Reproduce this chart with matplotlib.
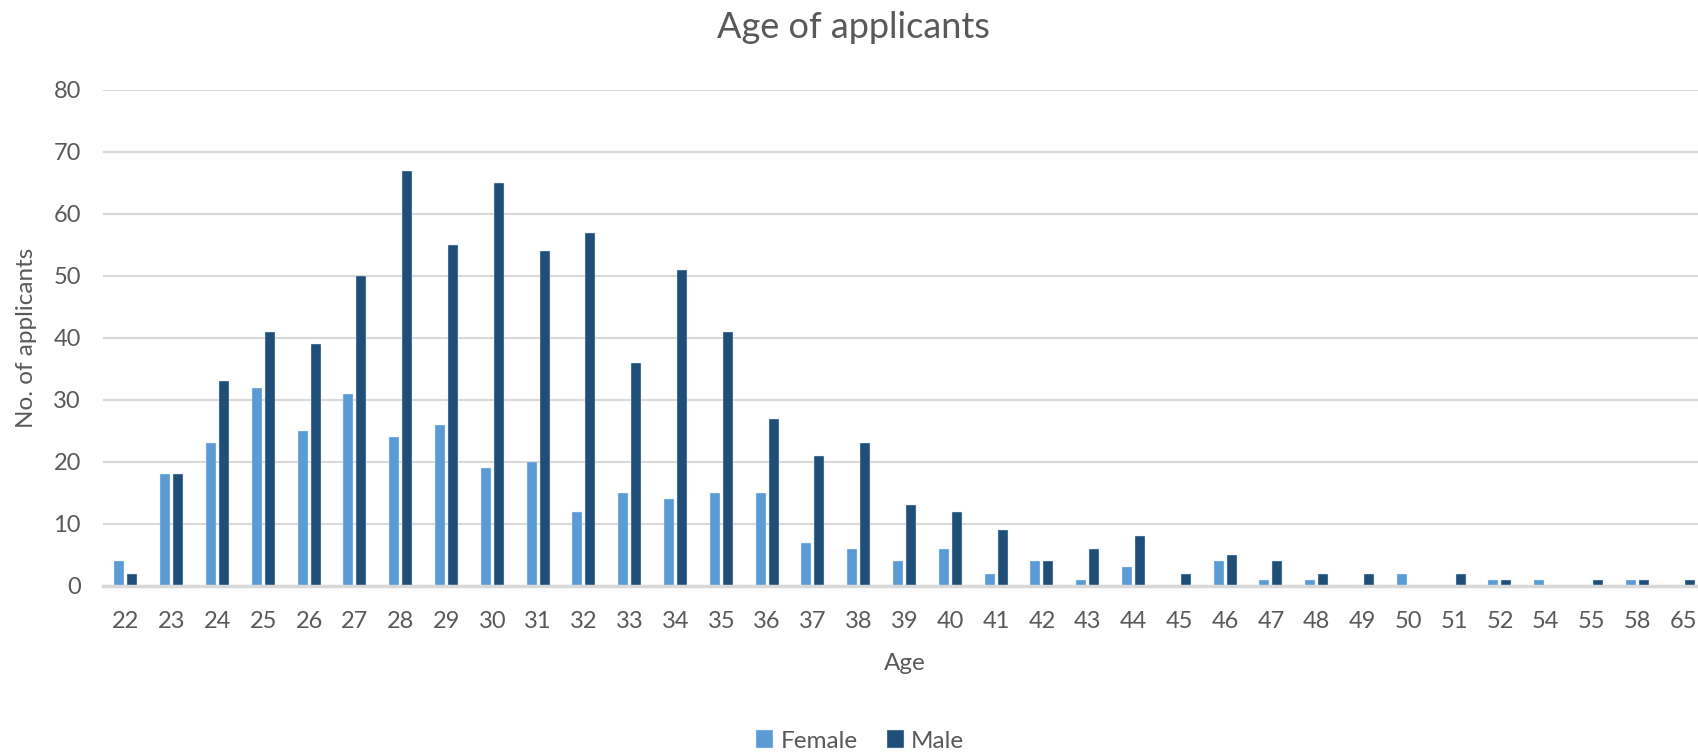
import matplotlib.pyplot as plt
import numpy as np

ages = ['22', '23', '24', '25', '26', '27', '28', '29', '30', '31', '32', '33',
        '34', '35', '36', '37', '38', '39', '40', '41', '42', '43', '44', '45',
        '46', '47', '48', '49', '50', '51', '52', '54', '55', '58', '65']
female = [4, 18, 23, 32, 25, 31, 24, 26, 19, 20, 12, 15, 14, 15, 15, 7, 6, 4, 6,
          2, 4, 1, 3, 0, 4, 1, 1, 0, 2, 0, 1, 1, 0, 1, 0]
male = [2, 18, 33, 41, 39, 50, 67, 55, 65, 54, 57, 36, 51, 41, 27, 21, 23, 13,
        12, 9, 4, 6, 8, 2, 5, 4, 2, 2, 0, 2, 1, 0, 1, 1, 1]

text_col = '#595959'
plt.rcParams['font.family'] = ['Lato', 'DejaVu Sans']

W, H = 1699, 752
fig = plt.figure(figsize=(W / 100, H / 100), dpi=100)
ax = fig.add_axes([103 / W, 1 - 586 / H, 1603 / W, (586 - 90) / H])

x = np.arange(len(ages))
bw = 0.22
ax.bar(x - 0.142, female, bw, color='#5B9BD5', edgecolor='#DDEBF7', linewidth=0.3,
       label='Female', zorder=3)
ax.bar(x + 0.142, male, bw, color='#1F4E79', edgecolor='#DDEBF7', linewidth=0.3,
       label='Male', zorder=3)

ax.set_xlim(-0.5, len(ages) - 0.5)
ax.set_ylim(0, 80)
ax.set_yticks(range(0, 81, 10))
ax.set_xticks(x)
ax.set_xticklabels(ages)
ax.yaxis.grid(True, color='#D9D9D9', linewidth=1.5, zorder=0)
for s in ['top', 'right', 'left']:
    ax.spines[s].set_visible(False)
ax.spines['bottom'].set_color('#D9D9D9')
ax.spines['bottom'].set_linewidth(2.5)
ax.spines['bottom'].set_zorder(4)
ax.tick_params(axis='both', length=0, labelsize=17, colors=text_col)
ax.tick_params(axis='y', pad=16)
ax.tick_params(axis='x', pad=18)

fig.text(853 / W, 1 - 27 / H, 'Age of applicants', ha='center', va='center',
         fontsize=26, color=text_col)
fig.text(905 / W, 1 - 663 / H, 'Age', ha='center', va='center',
         fontsize=17.5, color=text_col)
fig.text(27 / W, 1 - 338 / H, 'No. of applicants', ha='center', va='center',
         rotation=90, fontsize=17.5, color=text_col)

fig.legend(loc='center', bbox_to_anchor=(860 / W, 1 - 741 / H), ncol=2,
           frameon=False, fontsize=17.5, handlelength=0.7, handleheight=0.7,
           handletextpad=0.3, columnspacing=1.2, labelcolor=text_col)

fig.savefig('out.png', dpi=100)
